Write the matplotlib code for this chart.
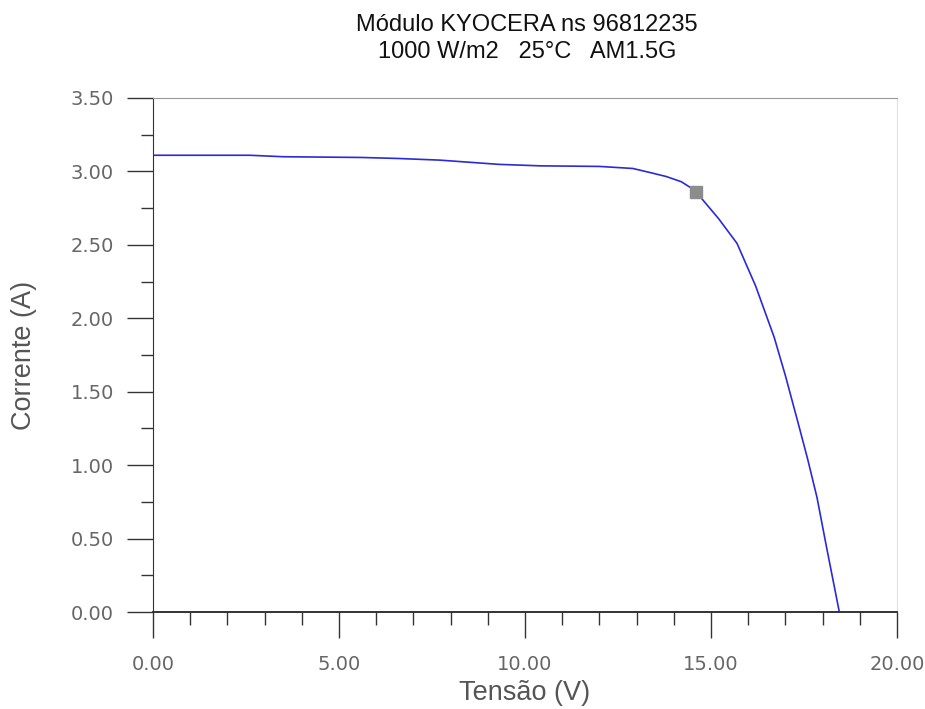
import matplotlib.pyplot as plt
from matplotlib.ticker import MultipleLocator, FormatStrFormatter

# Dados da curva I-V
tensao = [0.0, 2.6, 3.5, 5.6, 6.6, 7.7, 9.3, 10.4, 12.0, 12.9, 13.4, 13.8,
          14.2, 14.45, 14.7, 15.2, 15.7, 16.2, 16.7, 17.0, 17.35, 17.6, 17.85,
          18.1, 18.45]
corrente = [3.11, 3.11, 3.10, 3.095, 3.088, 3.077, 3.048, 3.038, 3.034, 3.02,
            2.99, 2.965, 2.93, 2.89, 2.83, 2.68, 2.51, 2.22, 1.87, 1.61, 1.28,
            1.04, 0.78, 0.45, 0.0]

# Ponto de maxima potencia
v_mp = [14.6]
i_mp = [2.86]

titulo = "Módulo KYOCERA ns 96812235\n1000 W/m2   25°C   AM1.5G"

fig = plt.figure(figsize=(9.25, 7.09), dpi=100)
ax = fig.add_axes([0.1654, 0.1368, 0.8043, 0.725])

ax.plot(tensao, corrente, color="#2a2ad8", lw=1.2)
ax.plot(v_mp, i_mp, "s", color="#8c8c8c", ms=8, mec="#8c8c8c")

ax.set_xlim(0, 20)
ax.set_ylim(0, 3.5)

ax.xaxis.set_major_locator(MultipleLocator(5))
ax.xaxis.set_minor_locator(MultipleLocator(1))
ax.yaxis.set_major_locator(MultipleLocator(0.5))
ax.yaxis.set_minor_locator(MultipleLocator(0.25))
ax.xaxis.set_major_formatter(FormatStrFormatter("%.2f"))
ax.yaxis.set_major_formatter(FormatStrFormatter("%.2f"))

ax.tick_params(which="major", direction="out", length=19, width=1,
               color="#333333", labelcolor="#666666", labelsize=14, pad=9)
ax.tick_params(axis="x", which="major", pad=12)
ax.tick_params(which="minor", direction="out", length=9, width=1,
               color="#333333")
for lab in ax.get_xticklabels() + ax.get_yticklabels():
    lab.set_family("DejaVu Sans")

ax.spines["left"].set_color("#333333")
ax.spines["bottom"].set_color("#333333")
ax.spines["bottom"].set_linewidth(1.4)
ax.spines["top"].set_color("#999999")
ax.spines["right"].set_color("#e0e0e0")

ax.set_xlabel("Tensão (V)", fontsize=19.5, color="#555555",
              family="Liberation Sans")
ax.set_ylabel("Corrente (A)", fontsize=19.5, color="#555555",
              family="Liberation Sans")
ax.xaxis.set_label_coords(0.5, -0.158)
ax.yaxis.set_label_coords(-0.173, 0.5)
ax.xaxis.label.set_va("center")
ax.yaxis.label.set_va("center")

fig.text(0.570, 0.980, titulo, ha="center", va="top", fontsize=17,
         family="Liberation Sans", color="#111111", linespacing=1.3)

fig.savefig("out.png", dpi=100)
